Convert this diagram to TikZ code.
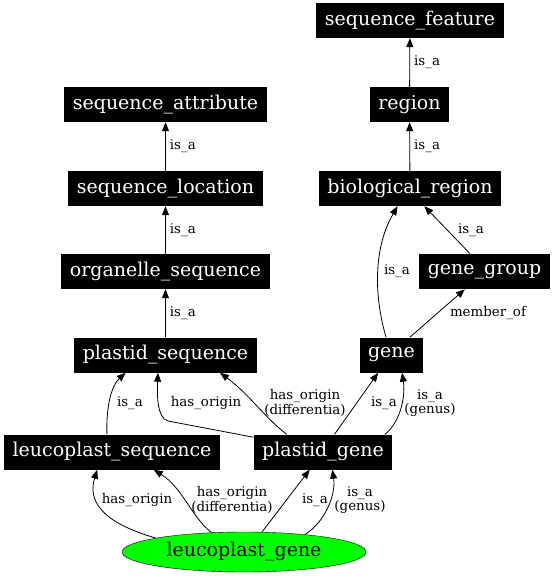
\documentclass[tikz,border=0pt]{standalone}
\usepackage{fontspec}
\setmainfont{DejaVu Serif}
\usetikzlibrary{arrows.meta,shapes.geometric}
\tikzset{
  term/.style={fill=black, text=white, font=\fontsize{19}{22}\selectfont,
    minimum height=35pt, inner xsep=8.5pt, inner ysep=0pt},
  root/.style={ellipse, fill=green, draw=black, font=\fontsize{19}{22}\selectfont,
    minimum width=244pt, minimum height=40pt, inner sep=0pt},
  edge/.style={line width=0.8pt, -{Triangle[length=9pt,width=7pt]}},
  lab/.style={font=\fontsize{13.4}{14.5}\selectfont, inner sep=1pt, align=center}
}
\begin{document}
\begin{tikzpicture}[x=1pt,y=-1pt]
            \useasboundingbox (0,0) rectangle (553,576);
            %the terms
            \node[term] (feature) at (410,20.5) {sequence\_feature};
            \node[term] (region) at (409.5,104.5) {region};
            \node[term] (bioregion) at (410,188.5) {biological\_region};
            \node[term] (genegroup) at (484.5,271.5) {gene\_group};
            \node[term] (gene) at (391.5,355) {gene};
            \node[term] (attribute) at (165.5,104.5) {sequence\_attribute};
            \node[term] (location) at (165.5,188.5) {sequence\_location};
            \node[term] (organelle) at (165.5,271.5) {organelle\_sequence};
            \node[term] (plastidseq) at (165.5,355) {plastid\_sequence};
            \node[term] (leucoseq) at (112,452) {leucoplast\_sequence};
            \node[term] (plastidgene) at (323,452) {plastid\_gene};
            \node[root] (leucogene) at (244,552) {leucoplast\_gene};
            %straight is_a chains
            \foreach \a/\b in {region/feature,bioregion/region,location/attribute,organelle/location,plastidseq/organelle}
            \draw[edge] (\a) -- node[lab,right=3pt] {is\_a} (\b);
            \draw[edge] (genegroup.129.6) -- (bioregion.-51)
            node[lab] at (471,230) {is\_a};
            \draw[edge] (gene.107) .. controls (375,300) and (372,250) .. (bioregion.235.6)
            node[lab] at (397,271) {is\_a};
            \draw[edge] (gene.44) -- (genegroup.222)
            node[lab] at (488,313) {member\_of};
            %plastid level
            \draw[edge] (leucoseq.106.4) .. controls (106,405) and (112,385) .. (plastidseq.204)
            node[lab] at (130,403) {is\_a};
            \draw[edge] (plastidgene.168.7) -- (168,421) .. controls (157,418) and (157,395) .. (plastidseq.247.4)
            node[lab] at (206,403) {has\_origin};
            \draw[edge] (plastidgene.154.7) .. controls (265,418) and (250,395) .. (plastidseq.-18.9)
            node[lab] at (305,403) {has\_origin\\(differentia)};
            \draw[edge] (plastidgene.57.1) -- (gene.233.1)
            node[lab] at (384,403) {is\_a};
            \draw[edge] (plastidgene.16.3) .. controls (398,425) and (406,400) .. (gene.-59.7)
            node[lab] at (430,403) {is\_a\\(genus)};
            %leucoplast_gene
            \draw[edge] (leucogene.171) .. controls (100,522) and (88,500) .. (leucoseq.230.5)
            node[lab] at (137,500) {has\_origin};
            \draw[edge] (leucogene.149.5) .. controls (192,518) and (183,488) .. (leucoseq.-23)
            node[lab] at (232,500) {has\_origin\\(differentia)};
            \draw[edge] (leucogene.48) -- (plastidgene.233.4)
            node[lab] at (315,500) {is\_a};
            \draw[edge] (leucogene.16.5) .. controls (325,522) and (336,495) .. (plastidgene.-62.8)
            node[lab] at (360,500) {is\_a\\(genus)};
\end{tikzpicture}
\end{document}
